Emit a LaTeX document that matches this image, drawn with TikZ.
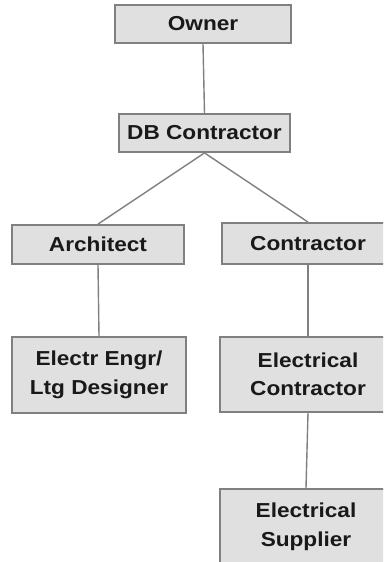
\documentclass[tikz,border=0pt]{standalone}
\usepackage{fontspec}
\setmainfont{Liberation Sans}[FakeStretch=1.12]
\definecolor{boxfill}{HTML}{E0E0E0}
\definecolor{boxline}{HTML}{808080}
\begin{document}
\begin{tikzpicture}[x=1pt,y=-1pt,
  orgbox/.style={draw=boxline, line width=1.8pt, fill=boxfill, inner sep=0pt,
    align=center, font=\fontsize{20.2}{28.5}\selectfont\bfseries, text=black!90},
  link/.style={draw=boxline, line width=1.4pt}]
\useasboundingbox (0,0) rectangle (383,562);
\clip (0,0) rectangle (383,562);
% boxes
\node[orgbox, minimum width=176pt, minimum height=38pt] (own) at (203,24) {Owner};
\node[orgbox, minimum width=171pt, minimum height=38pt] (db) at (204.5,133) {DB Contractor};
\node[orgbox, minimum width=172pt, minimum height=39pt] (arch) at (98,244.5) {Architect};
\node[orgbox, minimum width=172pt, minimum height=41pt] (con) at (308,243.5) {Contractor};
\node[orgbox, minimum width=174pt, minimum height=76pt] (eng) at (99,375) {Electr Engr/\\Ltg Designer};
\node[orgbox, minimum width=176pt, minimum height=75pt] (ec) at (308,374.5) {Electrical\\Contractor};
\node[orgbox, minimum width=172pt, minimum height=76pt] (sup) at (306,527) {Electrical\\Supplier};
% connectors
\draw[link] (own.south) -- (db.north);
\draw[link] (db.south) -- (arch.north);
\draw[link] (db.south) -- (con.north);
\draw[link] (arch.south) -- (eng.north);
\draw[link] (con.south) -- (ec.north);
\draw[link] (ec.south) -- (sup.north);
\end{tikzpicture}
\end{document}
